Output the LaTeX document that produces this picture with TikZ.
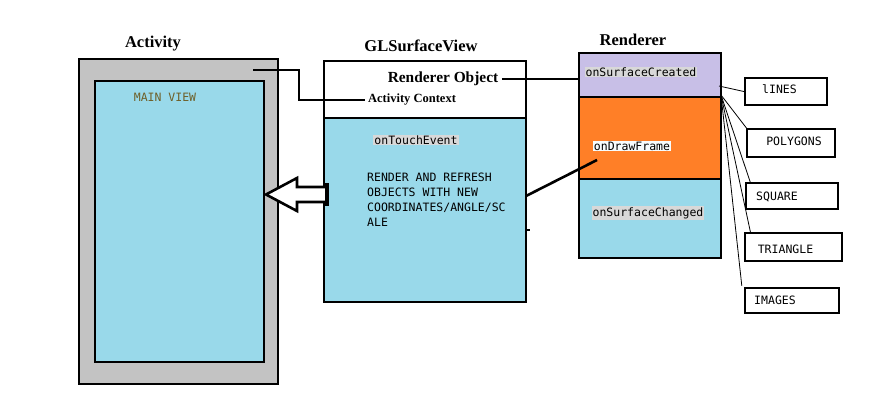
\documentclass[tikz,border=0pt]{standalone}
\usepackage{fontspec}
\setmainfont{Liberation Serif}
\setmonofont{DejaVu Sans Mono}
\usetikzlibrary{calc}
\definecolor{paintgray}{RGB}{195,195,195}
\definecolor{paintblue}{RGB}{153,217,234}
\definecolor{paintorange}{RGB}{255,127,39}
\definecolor{paintlilac}{RGB}{200,191,231}
\definecolor{hilite}{RGB}{216,216,216}
\definecolor{olive}{RGB}{110,95,40}
\begin{document}
\begin{tikzpicture}[
     x=1pt,y=-1pt,
     box/.style={draw,line width=2.6pt,inner sep=0pt},
     item/.style={draw,line width=2.4pt,fill=white,inner sep=0pt},
     title/.style={font=\bfseries\fontsize{16.5}{18}\selectfont},
     mono/.style={font=\ttfamily\fontsize{11.5}{15}\selectfont,inner sep=1pt},
     thick line/.style={line width=2.6pt},
     fan/.style={line width=0.8pt}
   ]
   \path[use as bounding box] (0,0) rectangle (891,401);
   % Activity.
   \node[box,fill=paintgray,minimum width=199,minimum height=325] (act) at (178.5,221.5) {};
   \node[box,fill=paintblue,minimum width=169,minimum height=281] (mainview) at (179.5,221.5) {};
   \node[title] (acttitle) at (153,44) {Activity};
   \node[mono,text=olive] (mainlabel) at (165,97) {MAIN VIEW};
   % GLSurfaceView.
   \node[box,fill=white,minimum width=202,minimum height=57] (gltop) at (425,89.5) {};
   \node[box,fill=paintblue,minimum width=202,minimum height=184] (glbot) at (425,210) {};
   \node[title] (gltitle) at (421,46) {GLSurfaceView};
   \node[font=\bfseries\fontsize{15.4}{17}\selectfont] (robj) at (443,79) {Renderer Object};
   \node[font=\bfseries\fontsize{12.5}{14}\selectfont] (ctx) at (412,100) {Activity Context};
   \node[mono,fill=hilite] (touch) at (416,140) {onTouchEvent};
   \node[mono,align=left,anchor=north west] (refresh) at (366,172)
     {RENDER AND REFRESH\\OBJECTS WITH NEW\\COORDINATES/ANGLE/SC\\ALE};
   % Renderer.
   \node[box,fill=paintlilac,minimum width=142,minimum height=44] (created) at (650,75) {};
   \node[box,fill=paintorange,minimum width=142,minimum height=82] (draw) at (650,138) {};
   \node[box,fill=paintblue,minimum width=142,minimum height=79] (changed) at (650,218.5) {};
   \node[title] (rtitle) at (633,40) {Renderer};
   \node[mono,fill=hilite] (createdlabel) at (641,72) {onSurfaceCreated};
   \node[mono,fill=white!92!paintblue] (drawlabel) at (632,146) {onDrawFrame};
   \node[mono,fill=hilite] (changedlabel) at (648,213) {onSurfaceChanged};
   % Shapes.
   \node[item,minimum width=82,minimum height=27] (lines) at (786,91.5) {};
   \node[item,minimum width=88,minimum height=28] (polygons) at (791,143) {};
   \node[item,minimum width=92,minimum height=26] (square) at (792,196) {};
   \node[item,minimum width=97,minimum height=28] (triangle) at (793.5,247) {};
   \node[item,minimum width=94,minimum height=25] (images) at (792,300.5) {};
   \node[mono] (linestext) at (779.5,89.5) {lINES};
   \node[mono] (polygonstext) at (794,141) {POLYGONS};
   \node[mono] (squaretext) at (777,196.5) {SQUARE};
   \node[mono] (triangletext) at (785.5,249) {TRIANGLE};
   \node[mono] (imagestext) at (775,300.5) {IMAGES};
   % Links.
   \coordinate (actport) at (253,70);
   \draw[thick line] (actport) -- ++(46,0) |- (ctx.west);
   \draw[thick line] (robj.east) -- (robj.east -| created.west);
   \coordinate (glport) at (526,196);
   \coordinate (drawport) at (597,160);
   \draw[thick line] (glport) -- (drawport);
   \coordinate (gltick) at (526,230);
   \draw[thick line] (gltick) -- ++(4,0);
   \draw[line width=2.6pt,fill=white,line join=miter]
     (327,187) -- (297,187) -- (297,178) -- (266,194.5) -- (297,211) -- (297,202) -- (327,202);
   \draw[line width=3.2pt] (327,183) -- (327,206);
   % Fan out.
   \coordinate (fanA) at (719,86);
   \coordinate (fanB) at (721,95);
   \draw[fan] (fanA) -- (lines.west);
   \draw[fan] (fanB) -- ([shift={(2,2)}]polygons.north west);
   \draw[fan] (fanB) -- ([shift={(6,2)}]square.north west);
   \draw[fan] (fanB) -- ([shift={(7,2)}]triangle.north west);
   \draw[fan] (fanB) -- ([shift={(-2,-1)}]images.north west);
 \end{tikzpicture}
\end{document}
